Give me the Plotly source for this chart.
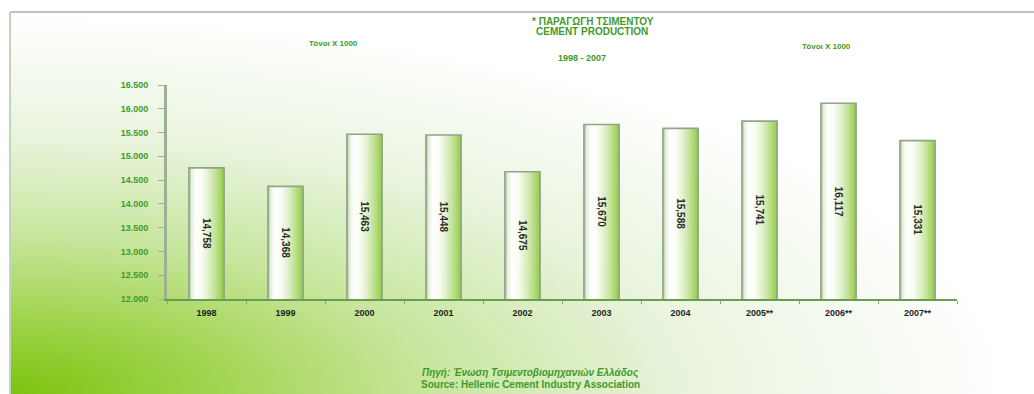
import base64
import plotly.graph_objects as go

# Cement production, thousand tonnes
years = ["1998", "1999", "2000", "2001", "2002", "2003", "2004", "2005**", "2006**", "2007**"]
production = [14758, 14368, 15463, 15448, 14675, 15670, 15588, 15741, 16117, 15331]
value_labels = ["14,758", "14,368", "15,463", "15,448", "14,675", "15,670", "15,588", "15,741", "16,117", "15,331"]

y_ticks = [12000, 12500, 13000, 13500, 14000, 14500, 15000, 15500, 16000, 16500]
y_tick_text = ["12.000", "12.500", "13.000", "13.500", "14.000", "14.500", "15.000", "15.500", "16.000", "16.500"]
y_min, y_max = 12000, 16500

W, H = 1034, 394
L, R, T, B = 167, 77, 85, 95
PW, PH = W - L - R, H - T - B

GREEN_TXT = "#3f9a2c"

fig = go.Figure()

# Cylinder-like shading across each bar: thin side-by-side slices
BAR_W = 0.445
profile = [  # (position across bar 0..1, colour)
    (0.00, (0xb0, 0xc4, 0xa2)),
    (0.08, (0xe6, 0xef, 0xde)),
    (0.18, (0xff, 0xff, 0xff)),
    (0.36, (0xfb, 0xfd, 0xf7)),
    (0.55, (0xe4, 0xf2, 0xd2)),
    (0.75, (0xc2, 0xe2, 0x96)),
    (0.90, (0xa4, 0xd4, 0x62)),
    (1.00, (0x92, 0xc6, 0x4a)),
]

def colour_at(t):
    for (t0, c0), (t1, c1) in zip(profile, profile[1:]):
        if t <= t1:
            f = (t - t0) / (t1 - t0)
            return "rgb({},{},{})".format(*[round(a + (b - a) * f) for a, b in zip(c0, c1)])
    return "rgb({},{},{})".format(*profile[-1][1])

N_SLICES = 18
slice_w = BAR_W / N_SLICES
for k in range(N_SLICES):
    fig.add_trace(go.Bar(
        x=years, y=production, width=slice_w * 1.15, offset=-BAR_W / 2 + k * slice_w,
        marker=dict(color=colour_at((k + 0.5) / N_SLICES), line=dict(width=0)),
        hoverinfo="skip", showlegend=False,
    ))

# Outline on top
fig.add_trace(go.Bar(
    x=years, y=production, width=BAR_W, offset=-BAR_W / 2,
    marker=dict(color="rgba(0,0,0,0)", line=dict(color="#8fa488", width=1.6)),
    hovertemplate="%{x}: %{y:,}<extra></extra>", showlegend=False,
))

# Value labels, rotated, centred in the visible part of each bar
# (category position given by index, since the names look numeric)
for i, (v, lab) in enumerate(zip(production, value_labels)):
    fig.add_annotation(
        x=i, y=(v + y_min) / 2, text=lab, textangle=90, showarrow=False,
        font=dict(family="Liberation Sans Narrow, Arial Narrow, Liberation Sans", size=10,
                  color="#2a2a2a", weight="bold"),
        xref="x", yref="y",
    )

# Background: radial green glow from the lower-left corner of the frame
svg = """<svg xmlns='http://www.w3.org/2000/svg' width='1024' height='382' viewBox='0 0 1024 382' preserveAspectRatio='none'>
<defs><radialGradient id='g' gradientUnits='userSpaceOnUse' cx='0' cy='0' r='1'
 gradientTransform='translate(0,382) scale(1000,380)'>
<stop offset='0' stop-color='#7cc30e'/>
<stop offset='0.2' stop-color='#a0d44e'/>
<stop offset='0.42' stop-color='#c8e69e'/>
<stop offset='0.68' stop-color='#e9f4de'/>
<stop offset='1' stop-color='#ffffff'/>
</radialGradient></defs>
<rect x='0' y='0' width='1024' height='382' fill='url(#g)'/>
</svg>"""
svg_uri = "data:image/svg+xml;base64," + base64.b64encode(svg.encode()).decode()

def px_x(px):
    return (px - L) / PW

def px_y(py):
    return (H - B - py) / PH

fig.add_layout_image(
    source=svg_uri, xref="paper", yref="paper",
    x=px_x(10), y=px_y(12), sizex=(W - 10) / PW, sizey=(H - 12) / PH,
    xanchor="left", yanchor="top", sizing="stretch", layer="below",
)

# Frame lines
fig.add_shape(type="line", xref="paper", yref="paper", x0=px_x(10), x1=px_x(W), y0=px_y(12), y1=px_y(12),
              line=dict(color="#b9c9b3", width=2))
fig.add_shape(type="line", xref="paper", yref="paper", x0=px_x(10), x1=px_x(10), y0=px_y(12), y1=px_y(H),
              line=dict(color="#c4d4bc", width=2))

# Titles and notes
def note(text, px, py, size=10, color=GREEN_TXT, italic=False):
    fig.add_annotation(
        text=text, x=px_x(px), y=px_y(py), xref="paper", yref="paper", showarrow=False,
        xanchor="center", yanchor="middle",
        font=dict(family="Liberation Sans", size=size, color=color, style="italic" if italic else "normal",
                  weight="bold"),
    )

note("* ΠΑΡΑΓΩΓΗ ΤΣΙΜΕΝΤΟΥ", 593, 21, size=10)
note("CEMENT PRODUCTION", 592, 32, size=10)
note("1998 - 2007", 582, 58, size=9)
note("Τόνοι Χ 1000", 333, 43, size=8)
note("Τόνοι Χ 1000", 826, 46, size=8)
note("Πηγή: Ένωση Τσιμεντοβιομηχανιών Ελλάδος", 530, 373, size=10, italic=True)
note("Source: Hellenic Cement Industry Association", 530, 384, size=10)

fig.update_layout(
    width=W, height=H,
    margin=dict(l=L, r=R, t=T, b=B, pad=0),
    paper_bgcolor="white", plot_bgcolor="rgba(0,0,0,0)",
    barmode="overlay", bargap=0.55,
    showlegend=False,
    font=dict(family="Liberation Sans"),
)
fig.update_xaxes(
    type="category", categoryorder="array", categoryarray=years,
    range=[-0.5, len(years) - 0.5],
    showline=True, linecolor="#6a9e4e", linewidth=2,
    ticks="outside", tickson="boundaries", ticklen=3, tickcolor="#8a9e84",
    tickfont=dict(family="Liberation Sans", size=9, color="#1e1e1e", weight="bold"),
    tickangle=0, ticklabelstandoff=4,
    showgrid=False, zeroline=False, fixedrange=True,
)
fig.update_yaxes(
    range=[y_min, y_max], tickmode="array", tickvals=y_ticks, ticktext=y_tick_text,
    showline=True, linecolor="#9db094", linewidth=3,
    ticks="outside", ticklen=6, tickcolor="#9db094",
    tickfont=dict(family="Liberation Sans", size=9, color=GREEN_TXT, weight="bold"),
    ticklabelstandoff=8,
    showgrid=False, zeroline=False, fixedrange=True,
)

fig.write_html("out.html")
